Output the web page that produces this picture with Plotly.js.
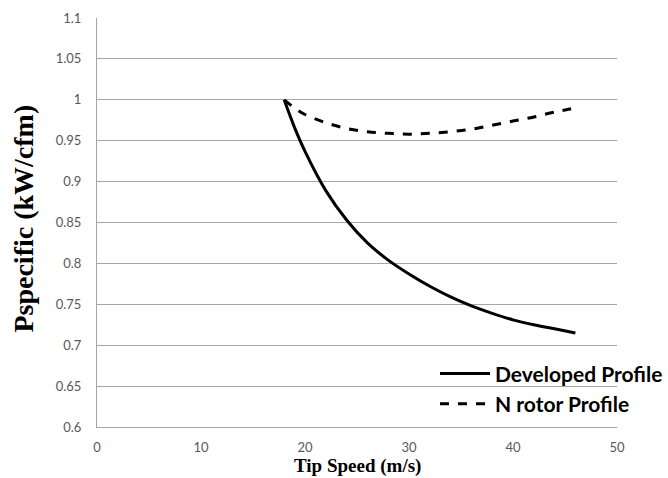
<!DOCTYPE html>
<html>
<head>
<meta charset="utf-8">
<script src="https://cdn.plot.ly/plotly-3.0.1.min.js"></script>
<style>html,body{margin:0;padding:0;background:#fff;}#chart{width:668px;height:478px;}</style>
</head>
<body>
<div id="chart"></div>
<script>
// Developed Profile
var devX = [18, 19, 20, 22, 24, 26, 28, 30, 32, 34, 36, 38, 40, 42, 44, 46];
var devY = [1.0, 0.966, 0.937, 0.889, 0.853, 0.825, 0.804, 0.787, 0.772, 0.759, 0.748, 0.739, 0.731, 0.725, 0.72, 0.715];
// N rotor Profile
var nrX = [18, 19, 20, 22, 24, 26, 28, 30, 32, 34, 36, 38, 40, 42, 44, 46];
var nrY = [1.0, 0.99, 0.982, 0.972, 0.965, 0.961, 0.959, 0.958, 0.959, 0.961, 0.964, 0.969, 0.974, 0.979, 0.985, 0.99];

var xTicks = [0, 10, 20, 30, 40, 50];
var yTicks = [0.6, 0.65, 0.7, 0.75, 0.8, 0.85, 0.9, 0.95, 1, 1.05, 1.1];
var yTickText = ['0.6', '0.65', '0.7', '0.75', '0.8', '0.85', '0.9', '0.95', '1', '1.05', '1.1'];

var traces = [
  {x: devX, y: devY, name: 'Developed Profile', mode: 'lines', line: {color: '#000', width: 3, shape: 'spline'}},
  {x: nrX, y: nrY, name: 'N rotor Profile', mode: 'lines', line: {color: '#000', width: 3, dash: 'dash', shape: 'spline'}}
];

var tickFont = {family: 'Lato, "Liberation Sans", sans-serif', size: 13, color: '#595959'};

var layout = {
  width: 668, height: 478,
  margin: {l: 97, r: 51, t: 18, b: 51, autoexpand: false},
  paper_bgcolor: '#fff', plot_bgcolor: '#fff',
  showlegend: true,
  legend: {x: 0.65, y: 0.18, xanchor: 'left', yanchor: 'top', bgcolor: 'rgba(0,0,0,0)', itemwidth: 50,
           font: {family: 'Lato, "Liberation Sans", sans-serif', size: 21, color: '#000', weight: 'bold'}},
  xaxis: {range: [0, 50], tickvals: xTicks, ticktext: xTicks.map(String), showgrid: false, zeroline: false,
          showline: true, linecolor: '#a6a6a6', linewidth: 1, ticks: '', tickfont: tickFont, ticklabelstandoff: 8},
  yaxis: {range: [0.6, 1.1], tickvals: yTicks, ticktext: yTickText, showgrid: true, gridcolor: '#a6a6a6', gridwidth: 1,
          zeroline: false, showline: true, linecolor: '#a6a6a6', linewidth: 1, ticks: '', tickfont: tickFont, ticklabelstandoff: 12},
  annotations: [
    {text: '<b>Tip Speed (m/s)</b>', xref: 'paper', yref: 'paper', x: 0.5, y: -0.095, xanchor: 'center', yanchor: 'middle',
     showarrow: false, font: {family: '"Liberation Serif", "Times New Roman", serif', size: 19, color: '#000'}},
    {text: '<b>Pspecific (kW/cfm)</b>', xref: 'paper', yref: 'paper', x: -0.142, y: 0.51, xanchor: 'center', yanchor: 'middle',
     textangle: -90, showarrow: false, font: {family: '"Liberation Serif", "Times New Roman", serif', size: 28, color: '#000'}}
  ]
};

Plotly.newPlot('chart', traces, layout, {staticPlot: true, displayModeBar: false});
</script>
</body>
</html>
